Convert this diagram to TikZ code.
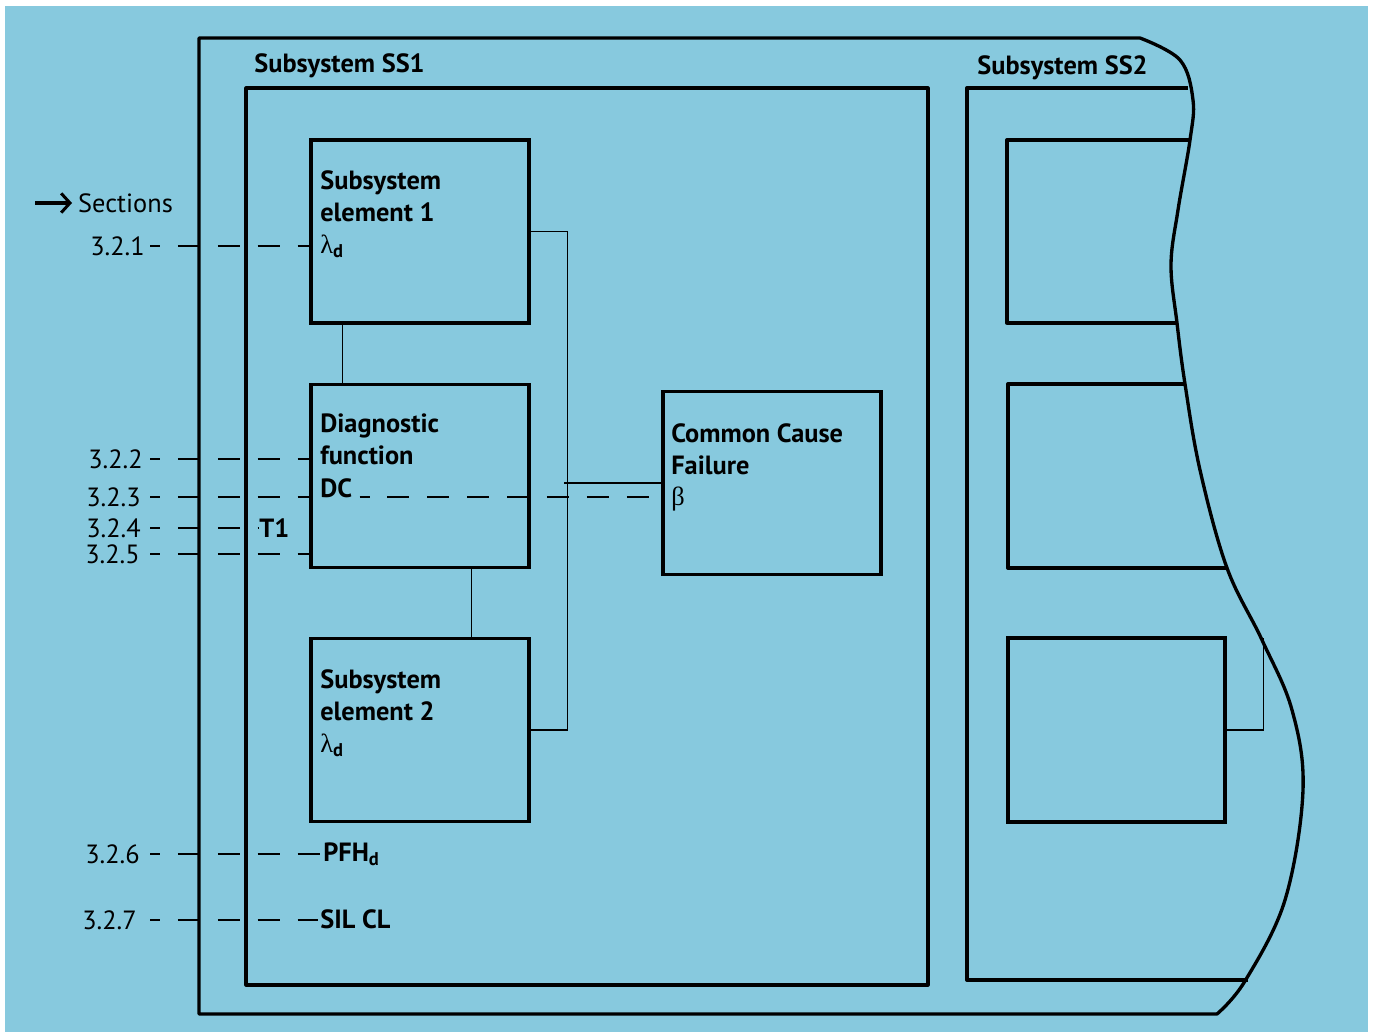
\documentclass[tikz,border=0pt]{standalone}
\usepackage{fontspec}
\setmainfont{PT Sans}
\newfontfamily\greekfont{Liberation Serif}
\usetikzlibrary{arrows.meta,positioning,calc}
\definecolor{panelblue}{RGB}{135,201,222}

\begin{document}
\begin{tikzpicture}[x=0.02cm, y=-0.02cm,
font=\fontsize{15}{18}\selectfont,
frame/.style={draw, line width=1.9pt, line join=round},
elembox/.style={draw, line width=1.9pt, minimum width=4.36cm, minimum height=3.66cm, inner sep=0pt},
boxtext/.style={font=\fontsize{15}{18}\selectfont\bfseries, align=left, anchor=base west, inner sep=0pt},
numlabel/.style={anchor=east, inner sep=0pt},
link/.style={line width=0.7pt},
secline/.style={line width=0.7pt, dash pattern=on 12.5pt off 10.2pt, dash phase=6.8pt},
secarrow/.style={-{Straight Barb[length=5pt, width=11pt, line width=1.7pt]}, line width=1.8pt}
]
% page and panel
\useasboundingbox (0,0) rectangle (1373,1034);
\fill[panelblue] (5,6) rectangle (1368,1032);

% subsystem SS1 (outer frame with wavy cut)
\draw[frame] (1140,38) -- (199,38) -- (199,1014) -- (1217,1014)
  -- plot[smooth, tension=0.6] coordinates {(1217,1014) (1245,981) (1285,900) (1303,790)
  (1292,710) (1262,640) (1227,568) (1200,470) (1185,384) (1177,323) (1171,265)
  (1178,210) (1190,140) (1193,100) (1180,60) (1140,38)};
\node[frame, minimum width=13.64cm, minimum height=17.94cm, inner sep=0pt] (ss1) at (587,536.5) {};
\node[boxtext] (ss1t) at (254,73) {Subsystem SS1};

% elements
\node[elembox] (se1) at (420,231.5) {};
\node[elembox] (diag) at (420,476) {};
\node[elembox] (se2) at (420,730) {};
\node[elembox] (ccf) at (772,483) {};

\node[boxtext] (se1t) at (320,253) {Subsystem\\element 1\\{\greekfont\mdseries λ}\textsubscript{d}};
\node[boxtext] (diagt) at (320,464) {Diagnostic\\function};
\node[boxtext] (dc) at (320,497) {DC};
\node[boxtext] (se2t) at (320,752) {Subsystem\\element 2\\{\greekfont\mdseries λ}\textsubscript{d}};
\node[boxtext] (ccft) at (671,474) {Common Cause\\Failure};
\node[boxtext, font=\fontsize{15}{18}\selectfont\greekfont] (beta) at (671,505) {β};

\draw[link] ([shift={(33,0)}]se1.south west) -- ([shift={(33,0)}]diag.north west);
\draw[link] ([shift={(162,0)}]diag.south west) -- ([shift={(162,0)}]se2.north west);
\draw[link] (se1.east) -- ++(37,0) |- (se2.east);
\draw[link] (ccf.west) -- ++(-97,0);

% subsystem SS2
\node[boxtext] (ss2t) at (977,75) {Subsystem SS2};
\draw[frame] (1188,88) -- (967,88) -- (967,980) -- (1248,980);
\draw[frame] (1189,140) -- (1007,140) -- (1007,323) -- (1177,323);
\draw[frame] (1185,384) -- (1008,384) -- (1008,568) -- (1227,568);
\node[draw, line width=1.9pt, minimum width=4.34cm, minimum height=3.68cm, inner sep=0pt] (s2c) at (1116.5,730) {};
\draw[link] (s2c.east) -- ++(37,0) -- ++(0,-92);

% sections
\coordinate (s0) at (150,0);
\coordinate (arrowtail) at (35,203);
\node[anchor=west] (sect) at (72,203) {Sections};
\draw[secarrow] (arrowtail) -- (sect.west);

\node[numlabel] (n321) at (145,246) {3.2.1};
\node[numlabel] (n322) at (143,459) {3.2.2};
\node[numlabel] (n323) at (141,497) {3.2.3};
\node[numlabel] (n324) at (141,528) {3.2.4};
\node[numlabel] (n325) at (140,554) {3.2.5};
\node[numlabel] (n326) at (140,854) {3.2.6};
\node[numlabel] (n327) at (137,920) {3.2.7};

\node[boxtext] (t1) at (259,537) {T1};
\node[boxtext] (pfh) at (323,861) {PFH\textsubscript{d}};
\node[boxtext] (sil) at (320,928) {SIL CL};

\draw[secline] (n321.east -| s0) -- (n321.east -| se1.west);
\draw[secline] (n322.east -| s0) -- (n322.east -| diag.west);
\draw[secline] (n323.east -| s0) -- (n323.east -| diag.west);
\draw[secline] ([xshift=4pt]dc.base east) -- (dc.base east -| ccf.west);
\draw[secline] (n324.east -| s0) -- (n324.east -| t1.west);
\draw[secline] (n325.east -| s0) -- (n325.east -| diag.west);
\draw[secline] (n326.east -| s0) -- ([xshift=-1pt]n326.east -| pfh.west);
\draw[secline] (n327.east -| s0) -- ([xshift=-1pt]n327.east -| sil.west);
\end{tikzpicture}
\end{document}
